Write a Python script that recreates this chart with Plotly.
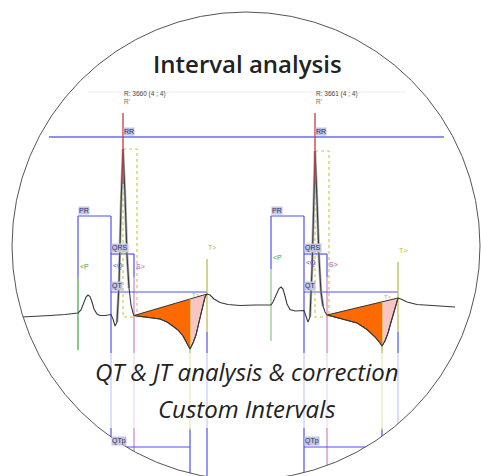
import numpy as np
import plotly.graph_objects as go

# ---------------- data ----------------
# ECG trace (horizontal: time in screen units, vertical: amplitude in screen units, downwards)
ecg_t = [22, 35, 50, 65, 78, 81, 84, 86, 88, 90, 92, 94, 97, 100, 105, 111, 113, 115, 117, 119, 121, 123,
         125, 127, 129, 131, 133, 134, 140, 150, 160, 167, 173, 178, 183, 187, 190, 193, 196, 199, 202, 205,
         207, 210, 214, 220, 228, 240, 255, 271, 273, 275, 277, 279, 281, 283, 285, 287, 290, 295, 304, 306,
         308, 310, 312, 314, 315, 317, 319, 321, 323, 325, 327, 335, 345, 357, 367, 375, 380, 382, 385, 388,
         391, 394, 396, 398, 402, 407, 417, 430, 445, 455]
ecg_v = [317, 316.5, 315.5, 314.5, 313, 310, 302, 297, 295, 296.5, 302, 309, 314, 315.5, 315.5, 314.5, 319,
         326, 322, 285, 205, 149, 195, 255, 288, 305, 313, 315.5, 316.5, 317.5, 319, 322, 326, 330, 336, 343,
         349, 343, 335, 322, 308, 297, 294, 295, 299, 302.5, 304.5, 305.5, 305, 305, 302, 297, 292, 288.5, 287,
         289, 296, 304, 309.5, 311, 310.5, 316, 322, 317, 270, 195, 151, 200, 258, 292, 306, 312, 315, 317,
         319.5, 323, 329.5, 337, 343, 346, 341, 333, 322, 311, 303, 298, 299.5, 302, 304.5, 305.5, 306, 307]

# fiducial points for each beat
beat_r = [123, 315]
beat_p_on = [78, 271]
beat_q_on = [111, 304]
beat_j = [134, 327]
beat_t_peak = [190, 382]
beat_t_end = [207, 398]
r_labels = ["R: 3660 (4 ; 4)", "R: 3661 (4 ; 4)"]

# ---------------- style / layout constants ----------------
W, H = 481, 476
CX, CY, RAD = 246, 246, 234
RR_Y, PR_Y, QRS_Y, QT_Y, QTP_Y = 137, 216, 254, 292, 447
BLUE = "#5050f0"
OLIVE = "#b8b840"
GREEN = "#40a040"
MAG = "#cc80cc"
RED = "#c84848"
LABEL_BG = "#c4c6dc"
LABEL_FG = "#2a2a6a"

t = np.array(ecg_t, float)
v = np.array(ecg_v, float)

fig = go.Figure()


def seg(x0, y0, x1, y1, color, width=1.2, dash=None):
    fig.add_trace(go.Scatter(x=[x0, x1], y=[y0, y1], mode="lines",
                             line=dict(color=color, width=width, dash=dash),
                             hoverinfo="skip", showlegend=False))


# T-wave area fills
for i in range(2):
    j, tp, te = beat_j[i], beat_t_peak[i], beat_t_end[i]
    yj, ytp, yte = np.interp([j, tp, te], t, v)
    ychord = yj + (yte - yj) * (tp - j) / (te - j)
    m1 = (t > j) & (t < tp)
    ox = [j] + list(t[m1]) + [tp, tp, j]
    oy = [yj] + list(v[m1]) + [ytp, ychord, yj]
    fig.add_trace(go.Scatter(x=ox, y=oy, mode="lines", fill="toself", fillcolor="#ff6a00",
                             line=dict(color="#333", width=1), hoverinfo="skip", showlegend=False))
    m2 = (t > tp) & (t < te)
    px = [tp] + list(t[m2]) + [te, tp]
    py = [ytp] + list(v[m2]) + [yte, ychord]
    fig.add_trace(go.Scatter(x=px, y=py, mode="lines", fill="toself", fillcolor="#f8c4c4",
                             line=dict(color="#333", width=1), hoverinfo="skip", showlegend=False))

# interval markers
seg(49, RR_Y, 444, RR_Y, "#6a6af8", 1.3)
for i in range(2):
    p, q, j, r, tp, te = beat_p_on[i], beat_q_on[i], beat_j[i], beat_r[i], beat_t_peak[i], beat_t_end[i]
    g_top = 277 if i == 0 else 269
    g_bot = 350 if i == 0 else 341
    # PR
    seg(p, PR_Y, p, g_top, BLUE)
    seg(p, g_top, p, g_bot, GREEN if i == 0 else "#88c888")
    seg(p, PR_Y, q, PR_Y, BLUE)
    seg(q, PR_Y, q, H, BLUE)
    # QRS
    seg(q, QRS_Y, j, QRS_Y, BLUE)
    seg(j, QRS_Y, j, 277, BLUE)
    seg(j, 277, j, H, MAG)
    # QT
    seg(q, QT_Y, te, QT_Y, BLUE)
    te_top = 259 if i == 0 else 262
    seg(te, te_top, te, 332, OLIVE)
    seg(te, 332, te, H, BLUE)
    # T peak
    ytp_line = np.interp(j, t, v) + (np.interp(te, t, v) - np.interp(j, t, v)) * (tp - j) / (te - j)
    seg(tp, ytp_line, tp, 430, OLIVE)
    seg(tp, 430, tp, H, BLUE)
    # QTp
    seg(q, QTP_Y, tp, QTP_Y, BLUE)
    # dotted QRS window
    yr = np.interp(r, t, v)
    fig.add_trace(go.Scatter(x=[r, r + 14, r + 14, r, r], y=[yr, yr, 317, 317, yr], mode="lines",
                             line=dict(color="#c8c850", width=1.2, dash="dot"),
                             hoverinfo="skip", showlegend=False))

# ECG: halo on QRS, then the trace
for i in range(2):
    m = (t >= beat_q_on[i] + 6) & (t <= beat_j[i] - 4)
    fig.add_trace(go.Scatter(x=t[m], y=v[m], mode="lines", line=dict(color="#b0b0b0", width=2.6),
                             hoverinfo="skip", showlegend=False))
fig.add_trace(go.Scatter(x=t, y=v, mode="lines", line=dict(color="#3a3a3a", width=1.1),
                         hoverinfo="skip", showlegend=False))

# R markers
for i in range(2):
    seg(beat_r[i], 113, beat_r[i], 184, RED, 1.4)

# light rule near top
seg(88, 92, 405, 92, "#ececec", 1)

# ---------------- overlays ----------------
ang = np.linspace(0, 2 * np.pi, 181)
circ = " ".join(("M" if k == 0 else "L") + f"{CX + RAD * np.cos(a):.2f},{CY + RAD * np.sin(a):.2f}"
                for k, a in enumerate(ang)) + " Z"
mask_path = f"M-20,-20 L{W + 20},-20 L{W + 20},{H + 20} L-20,{H + 20} Z " + circ

fig.add_shape(type="rect", xref="x", yref="y", x0=0, x1=W, y0=353, y1=428,
              fillcolor="rgba(255,255,255,0.68)", line=dict(width=0), layer="above")
fig.add_shape(type="path", xref="x", yref="y", path=mask_path, fillcolor="white",
              fillrule="evenodd", line=dict(width=0), layer="above")
fig.add_shape(type="circle", xref="x", yref="y", x0=CX - RAD, x1=CX + RAD, y0=CY - RAD, y1=CY + RAD,
              line=dict(color="#555", width=1), layer="above")

# ---------------- texts ----------------
def lab(x, y, text, color=LABEL_FG, bg=None, size=7, xa="left", ya="bottom"):
    fig.add_annotation(x=x, y=y, text=text, showarrow=False, xref="x", yref="y",
                       xanchor=xa, yanchor=ya, bgcolor=bg, borderpad=0,
                       font=dict(family="Liberation Sans, Arial", size=size, color=color))


for i in range(2):
    p, q, j, r, tp, te = beat_p_on[i], beat_q_on[i], beat_j[i], beat_r[i], beat_t_peak[i], beat_t_end[i]
    lab(r, 99, r_labels[i], color="#444", size=6.5)
    lab(r, 106, "R'", color=RED, size=6.5)
    lab(r, RR_Y - 1, "RR", bg=LABEL_BG)
    lab(p, PR_Y - 1, "PR", bg=LABEL_BG)
    lab(q, QRS_Y - 1, "QRS", bg=LABEL_BG)
    lab(q, QT_Y - 1, "QT", bg=LABEL_BG)
    lab(q, QTP_Y - 1, "QTp", bg=LABEL_BG)
    lab(p + 1, (271 if i == 0 else 262), "&lt;P", color=GREEN)
    lab(q + 1, 271 if i == 0 else 268, "&lt;Q", color=BLUE)
    lab(j + 1, 271 if i == 0 else 269, "S&gt;", color="#b050b0")
    lab(te, 252 if i == 0 else 255, "T&gt;", color=OLIVE)
    lab(tp + 1, 299 if i == 0 else 301, "T&gt;", color=OLIVE, size=6)

fig.add_annotation(x=CX + 1, y=63, text="Interval analysis", showarrow=False, xref="x", yref="y",
                   font=dict(family="Open Sans", size=24, color="#222", weight=600))
fig.add_annotation(x=CX + 1, y=371, text="QT &amp; JT analysis &amp; correction", showarrow=False,
                   xref="x", yref="y",
                   font=dict(family="Open Sans", size=24, color="#222", style="italic"))
fig.add_annotation(x=CX + 1, y=408, text="Custom Intervals", showarrow=False, xref="x", yref="y",
                   font=dict(family="Open Sans", size=24, color="#222", style="italic"))

fig.update_xaxes(range=[0, W], visible=False, fixedrange=True)
fig.update_yaxes(range=[H, 0], visible=False, fixedrange=True)
fig.update_layout(width=W, height=H, margin=dict(l=0, r=0, t=0, b=0),
                  paper_bgcolor="white", plot_bgcolor="white", showlegend=False)

fig.write_html("out.html", config={"displayModeBar": False})
with open("out.html", encoding="utf-8") as f:
    html = f.read()
html = html.replace("<head>", "<head><style>html,body{margin:0;padding:0;overflow:hidden;}</style>", 1)
with open("out.html", "w", encoding="utf-8") as f:
    f.write(html)
